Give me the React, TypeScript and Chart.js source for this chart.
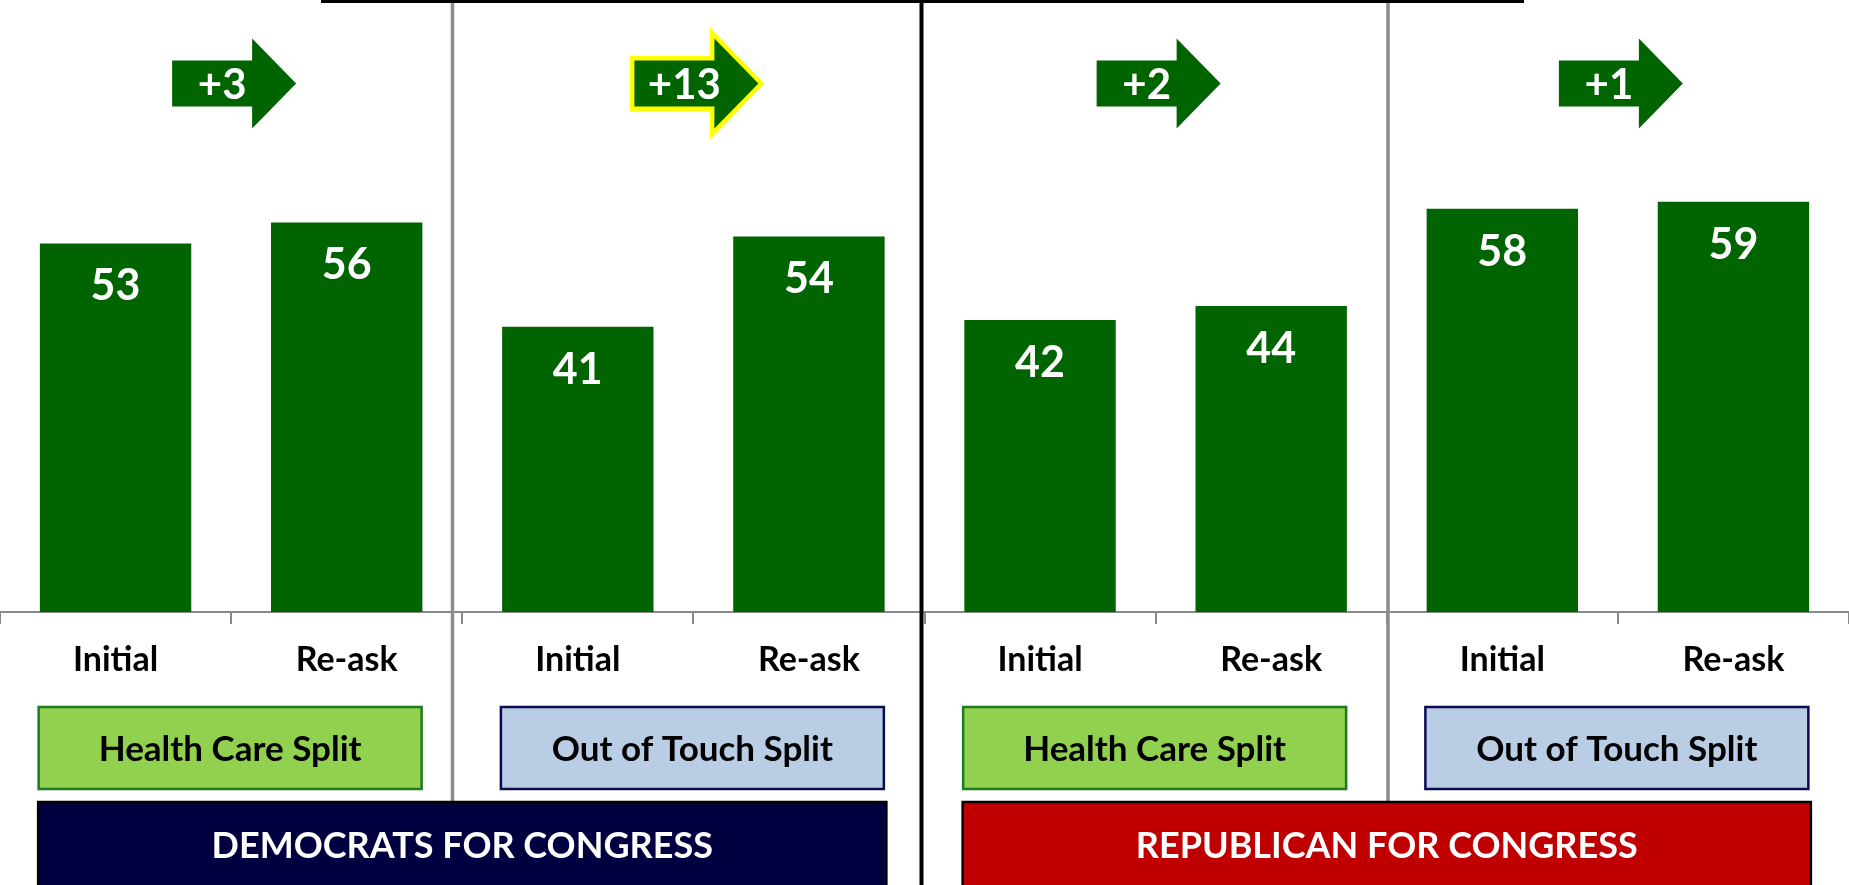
import React, { useEffect, useRef } from "react";
import { Chart, registerables } from "chart.js";

Chart.register(...registerables);

// ---- Data ----
const categories = ["Initial", "Re-ask", "Initial", "Re-ask", "Initial", "Re-ask", "Initial", "Re-ask"];
const values = [53, 56, 41, 54, 42, 44, 58, 59];
const shiftLabels = ["+3", "+13", "+2", "+1"];
const shiftHighlighted = [false, true, false, false];
const splitLabels = ["Health Care Split", "Out of Touch Split", "Health Care Split", "Out of Touch Split"];
const partyLabels = ["DEMOCRATS FOR CONGRESS", "REPUBLICAN FOR CONGRESS"];

// ---- Styles / layout ----
const FONT = "Lato, 'Open Sans', sans-serif";
const BAR_GREEN = "#006400";
const splitFills = ["#92D050", "#B9CDE5", "#92D050", "#B9CDE5"];
const splitBorders = ["#1E7B1E", "#0B0B50", "#1E7B1E", "#0B0B50"];
const partyFills = ["#000040", "#C00000"];
const W = 1849;
const H = 885;
const AXIS_Y = 612;
const Y_MAX = 88;
const ARROW_LEVEL = 76;

function arrowPath(ctx: CanvasRenderingContext2D, cx: number, cy: number) {
  const bodyW = 80, bodyH = 46, headW = 44, headH = 90;
  const left = cx - (bodyW + headW) / 2;
  const bx = left + bodyW;
  ctx.beginPath();
  ctx.moveTo(left, cy - bodyH / 2);
  ctx.lineTo(bx, cy - bodyH / 2);
  ctx.lineTo(bx, cy - headH / 2);
  ctx.lineTo(bx + headW, cy);
  ctx.lineTo(bx, cy + headH / 2);
  ctx.lineTo(bx, cy + bodyH / 2);
  ctx.lineTo(left, cy + bodyH / 2);
  ctx.closePath();
}

const overlayPlugin = {
  id: "overlays",
  afterDatasetsDraw(chart: any) {
    const ctx = chart.ctx as CanvasRenderingContext2D;
    const meta = chart.getDatasetMeta(0);
    ctx.save();
    ctx.fillStyle = "#FFFFFF";
    ctx.font = `bold 43px ${FONT}`;
    ctx.textAlign = "center";
    ctx.textBaseline = "middle";
    meta.data.forEach((bar: any, i: number) => {
      ctx.fillText(String(values[i]), bar.x, bar.y + 43);
    });
    ctx.restore();
  },
  afterDraw(chart: any) {
    const ctx = chart.ctx as CanvasRenderingContext2D;
    const xs = chart.scales.x;
    const ys = chart.scales.y;
    const cw = xs.getPixelForTick(1) - xs.getPixelForTick(0);
    const bottom = chart.chartArea.bottom;
    ctx.save();

    // shift arrows
    shiftLabels.forEach((lab, k) => {
      const cx = (xs.getPixelForTick(2 * k) + xs.getPixelForTick(2 * k + 1)) / 2 + 3;
      const cy = ys.getPixelForValue(ARROW_LEVEL);
      if (shiftHighlighted[k]) {
        arrowPath(ctx, cx, cy);
        ctx.lineJoin = "miter";
        ctx.miterLimit = 10;
        ctx.lineWidth = 9;
        ctx.strokeStyle = "#FFFF00";
        ctx.stroke();
      }
      arrowPath(ctx, cx, cy);
      ctx.fillStyle = BAR_GREEN;
      ctx.fill();
      ctx.fillStyle = "#FFFFFF";
      ctx.font = `bold 42px ${FONT}`;
      ctx.textAlign = "center";
      ctx.textBaseline = "middle";
      ctx.fillText(lab, cx - 12, cy + 2);
    });

    // split boxes
    splitLabels.forEach((lab, k) => {
      const cx = (xs.getPixelForTick(2 * k) + xs.getPixelForTick(2 * k + 1)) / 2 - 1;
      const bw = cw * 1.657;
      const top = bottom + 95;
      const bh = 82;
      ctx.fillStyle = splitFills[k];
      ctx.fillRect(cx - bw / 2, top, bw, bh);
      ctx.lineWidth = 2.5;
      ctx.strokeStyle = splitBorders[k];
      ctx.strokeRect(cx - bw / 2, top, bw, bh);
      ctx.fillStyle = "#000000";
      ctx.font = `bold 35px ${FONT}`;
      ctx.textAlign = "center";
      ctx.textBaseline = "middle";
      ctx.fillText(lab, cx, top + bh / 2 + 2);
    });

    // dividers
    const b2 = (xs.getPixelForTick(1) + xs.getPixelForTick(2)) / 2;
    const b4 = (xs.getPixelForTick(3) + xs.getPixelForTick(4)) / 2;
    const b6 = (xs.getPixelForTick(5) + xs.getPixelForTick(6)) / 2;
    ctx.fillStyle = "#8C8C8C";
    ctx.fillRect(b2 - 11.5, 0, 3.5, bottom + 190);
    ctx.fillRect(b6 - 0.5, 0, 3.5, bottom + 190);
    ctx.fillStyle = "#000000";
    ctx.fillRect(b4 - 5, 0, 4, H);
    ctx.fillRect(321, 0, 1524 - 321, 3);

    // party banners
    partyLabels.forEach((lab, k) => {
      const cx = (xs.getPixelForTick(4 * k) + xs.getPixelForTick(4 * k + 3)) / 2;
      const bw = cw * 3.67;
      const top = bottom + 190;
      ctx.fillStyle = partyFills[k];
      ctx.fillRect(cx - bw / 2, top, bw, 110);
      ctx.lineWidth = 2.5;
      ctx.strokeStyle = "#000000";
      ctx.strokeRect(cx - bw / 2, top, bw, 110);
      ctx.fillStyle = "#FFFFFF";
      ctx.font = `bold 36px ${FONT}`;
      ctx.textAlign = "center";
      ctx.textBaseline = "middle";
      ctx.fillText(lab, cx, top + 44);
    });

    ctx.restore();
  },
};

export default function App() {
  const canvasRef = useRef<HTMLCanvasElement | null>(null);

  useEffect(() => {
    let chart: Chart | null = null;
    let cancelled = false;
    const make = () => {
      if (cancelled || !canvasRef.current) return;
      chart = new Chart(canvasRef.current, {
        type: "bar",
        data: {
          labels: categories,
          datasets: [
            {
              data: values,
              backgroundColor: BAR_GREEN,
              barPercentage: 0.655,
              categoryPercentage: 1.0,
            },
          ],
        },
        options: {
          animation: false,
          responsive: true,
          maintainAspectRatio: false,
          layout: { padding: 0 },
          plugins: {
            legend: { display: false },
            tooltip: { enabled: false },
          },
          scales: {
            x: {
              afterFit: (scale: any) => {
                scale.height = H - AXIS_Y;
              },
              border: { display: true, color: "#898989", width: 2 },
              grid: {
                offset: true,
                drawOnChartArea: false,
                drawTicks: true,
                tickLength: 12,
                color: "#898989",
                lineWidth: 2,
              },
              ticks: {
                color: "#000000",
                padding: 16,
                font: { family: FONT, size: 34, weight: "bold" },
                maxRotation: 0,
              },
            },
            y: {
              display: false,
              min: 0,
              max: Y_MAX,
            },
          },
        },
        plugins: [overlayPlugin],
      });
    };
    const fontsReady = (document as any).fonts
      ? Promise.all([
          (document as any).fonts.load(`bold 34px Lato`),
        ]).catch(() => null)
      : Promise.resolve();
    fontsReady.then(make);
    return () => {
      cancelled = true;
      if (chart) chart.destroy();
    };
  }, []);

  return (
    <div style={{ position: "absolute", left: 0, top: 0, width: W, height: H, background: "#FFFFFF" }}>
      <canvas ref={canvasRef} />
    </div>
  );
}
